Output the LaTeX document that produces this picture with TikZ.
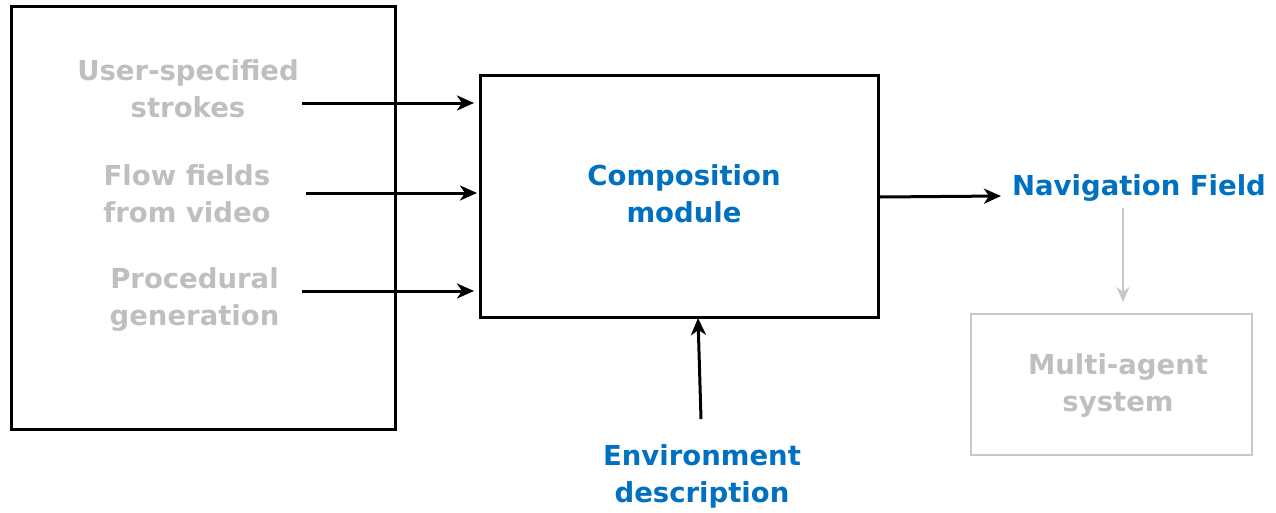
\documentclass[tikz,border=0pt]{standalone}
\usepackage{fontspec}
\setmainfont{DejaVu Sans}
\usetikzlibrary{arrows.meta}
\definecolor{navblue}{HTML}{0070C0}
\definecolor{lgray}{HTML}{BFBFBF}
\definecolor{bgray}{HTML}{C8C8C8}
\tikzset{
  lbl/.style={inner sep=0pt, align=center, font=\fontsize{27.5}{37}\selectfont\bfseries},
  graytxt/.style={lbl, text=lgray},
  bluetxt/.style={lbl, text=navblue},
  blackbox/.style={draw=black, line width=3pt},
  graybox/.style={draw=bgray, line width=2.2pt},
  arr/.style={line width=3pt, -{Stealth[length=17pt,width=15pt,inset=5pt]}},
  grayarr/.style={draw=bgray, line width=2.4pt, -{Stealth[length=15pt,width=13pt,inset=5pt]}}
}
\begin{document}
\begin{tikzpicture}[x=1pt,y=-1pt]
\useasboundingbox (0,0) rectangle (1276,512);
% boxes
\draw[blackbox] (11,6) rectangle (395,429);
\node[blackbox, minimum width=398pt, minimum height=242pt, inner sep=0pt] (comp) at (679,196) {};
\node[graybox, minimum width=281pt, minimum height=141pt, inner sep=0pt] (mas) at (1111.5,384.5) {};
% texts
\node[graytxt] (us) at (188,89) {User-specified\\strokes};
\node[graytxt] (ff) at (187,194) {Flow fields\\from video};
\node[graytxt] (pg) at (194.5,300) {Procedural\\generation};
\node[bluetxt] (cm) at (684,194) {Composition\\module};
\node[bluetxt] (nf) at (1139,188) {Navigation Field};
\node[graytxt] at (1118,386) {Multi-agent\\system};
\node[bluetxt] (env) at (702,476) {Environment\\description};
% connector coordinates
\coordinate (s1) at (302,103);
\coordinate (s2) at (306,193);
\coordinate (s3) at (302,291);
\coordinate (e1) at (474,103);
\coordinate (e2) at (477,193);
\coordinate (e3) at (474,291);
\coordinate (nfe) at (1001,196);
\coordinate (envs) at (701,419);
\coordinate (envt) at (698,318);
\coordinate (nfs) at (1123,208);
\coordinate (mast) at (1123,302);
% arrows
\draw[arr] (s1) -- (e1);
\draw[arr] (s2) -- (e2);
\draw[arr] (s3) -- (e3);
\draw[arr] (comp.east |- 0,197) -- (nfe);
\draw[arr] (envs) -- (envt);
\draw[grayarr] (nfs) -- (mast);
\end{tikzpicture}
\end{document}
